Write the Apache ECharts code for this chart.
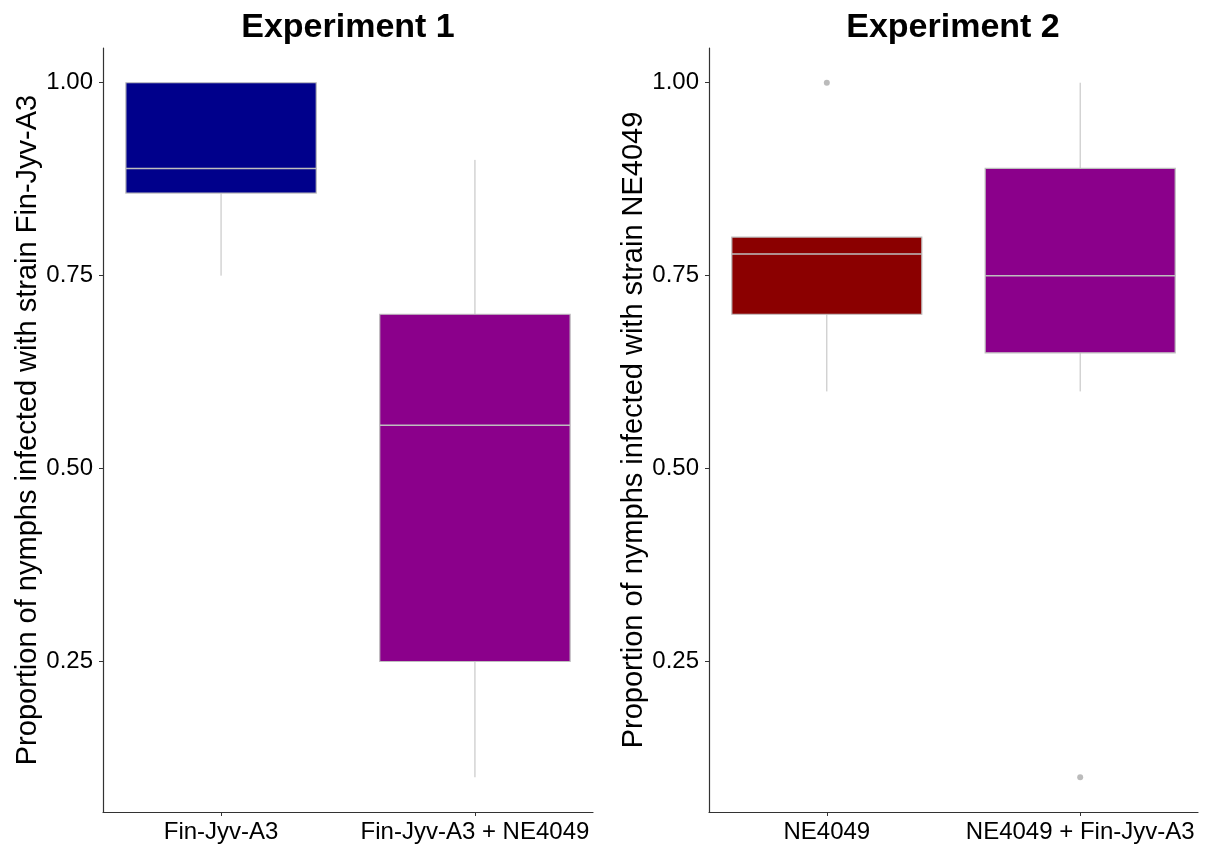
<!DOCTYPE html>
<html>
<head>
<meta charset="utf-8">
<script src="https://cdn.jsdelivr.net/npm/echarts@6/dist/echarts.min.js"></script>
<style>
html,body{margin:0;padding:0;background:#fff;}
#chart{width:1210px;height:847px;}
</style>
</head>
<body>
<div id="chart"></div>
<script>
// ---- data ----
const exp1Categories = ['Fin-Jyv-A3', 'Fin-Jyv-A3 + NE4049'];
const exp1Min    = [0.75, 0.10];
const exp1Q1     = [0.857, 0.25];
const exp1Median = [0.889, 0.556];
const exp1Q3     = [1.00, 0.70];
const exp1Max    = [1.00, 0.90];
const exp1OutlierCats = [];
const exp1OutlierVals = [];

const exp2Categories = ['NE4049', 'NE4049 + Fin-Jyv-A3'];
const exp2Min    = [0.60, 0.60];
const exp2Q1     = [0.70, 0.65];
const exp2Median = [0.778, 0.75];
const exp2Q3     = [0.80, 0.889];
const exp2Max    = [0.80, 1.00];
const exp2OutlierCats = ['NE4049', 'NE4049 + Fin-Jyv-A3'];
const exp2OutlierVals = [1.00, 0.10];

const yTickValues = [0.25, 0.50, 0.75, 1.00];
const titles = ['Experiment 1', 'Experiment 2'];
const yNames = ['Proportion of nymphs infected with strain Fin-Jyv-A3',
                'Proportion of nymphs infected with strain NE4049'];

// ---- styles ----
const exp1Colors = ['#00008B', '#8B008B'];
const exp2Colors = ['#8B0000', '#8B008B'];
const FONT = "'Liberation Sans', Arial, sans-serif";
const GREY = '#bebebe';
const BOX_WIDTH = 0.75;   // in category units (ggplot default)
const X_PAD = 0.465;      // discrete-axis expansion on each side

function boxData(mins, q1s, meds, q3s, maxs) {
  return mins.map((m, i) => [i, m, q1s[i], meds[i], q3s[i], maxs[i]]);
}

function makeRender(colors) {
  return function (params, api) {
    const x = api.value(0);
    const lo = api.coord([x, api.value(1)]);
    const q1 = api.coord([x, api.value(2)]);
    const med = api.coord([x, api.value(3)]);
    const q3 = api.coord([x, api.value(4)]);
    const hi = api.coord([x, api.value(5)]);
    const bw = api.size([1, 0])[0] * BOX_WIDTH;
    const cx = q1[0];
    const lineStyle = {stroke: GREY, lineWidth: 1};
    return {
      type: 'group',
      children: [
        {type: 'line', shape: {x1: cx, y1: hi[1], x2: cx, y2: q3[1]}, style: lineStyle},
        {type: 'line', shape: {x1: cx, y1: q1[1], x2: cx, y2: lo[1]}, style: lineStyle},
        {type: 'rect', shape: {x: cx - bw / 2, y: q3[1], width: bw, height: q1[1] - q3[1]},
         style: {fill: colors[params.dataIndex], stroke: GREY, lineWidth: 1.2}},
        {type: 'line', shape: {x1: cx - bw / 2, y1: med[1], x2: cx + bw / 2, y2: med[1]},
         style: {stroke: GREY, lineWidth: 1.5}}
      ]
    };
  };
}

function xAxisCfg(idx, cats) {
  const pos = cats.map((c, i) => i);
  return {
    type: 'value', gridIndex: idx, min: -X_PAD, max: cats.length - 1 + X_PAD,
    position: 'bottom',
    axisLine: {show: true, onZero: false, lineStyle: {color: '#333', width: 1.2}},
    axisTick: {show: true, length: 4, customValues: pos, lineStyle: {color: '#333'}},
    axisLabel: {color: '#000', fontSize: 24, fontFamily: FONT, margin: 8,
      customValues: pos, formatter: v => cats[Math.round(v)]},
    splitLine: {show: false}
  };
}
function yAxisCfg(idx, name, gap) {
  return {
    type: 'value', gridIndex: idx, min: 0.055, max: 1.045,
    position: 'left',
    name: name, nameLocation: 'middle', nameGap: gap, nameRotate: 90,
    nameTextStyle: {color: '#000', fontSize: 29, fontFamily: FONT},
    axisLine: {show: true, onZero: false, lineStyle: {color: '#333', width: 1.2}},
    axisTick: {show: true, length: 4, customValues: yTickValues, lineStyle: {color: '#333'}},
    axisLabel: {color: '#000', fontSize: 24, fontFamily: FONT, margin: 10,
      customValues: yTickValues, formatter: v => v.toFixed(2)},
    splitLine: {show: false}
  };
}

function outlierData(cats, oCats, oVals) {
  return oCats.map((c, i) => [cats.indexOf(c), oVals[i]]);
}

const chart = echarts.init(document.getElementById('chart'), null, {renderer: 'canvas'});
chart.setOption({
  animation: false,
  backgroundColor: '#fff',
  title: [
    {text: titles[0], left: 343, top: 6, textAlign: 'center',
     textStyle: {fontSize: 34, fontWeight: 'bold', fontFamily: FONT, color: '#000'}},
    {text: titles[1], left: 948, top: 6, textAlign: 'center',
     textStyle: {fontSize: 34, fontWeight: 'bold', fontFamily: FONT, color: '#000'}}
  ],
  grid: [
    {left: 103, top: 48, width: 490, height: 764},
    {left: 709, top: 48, width: 489, height: 764}
  ],
  xAxis: [xAxisCfg(0, exp1Categories), xAxisCfg(1, exp2Categories)],
  yAxis: [yAxisCfg(0, yNames[0], 59), yAxisCfg(1, yNames[1], 60)],
  series: [
    {type: 'custom', xAxisIndex: 0, yAxisIndex: 0, renderItem: makeRender(exp1Colors),
     encode: {x: 0, y: [1, 2, 3, 4, 5]},
     data: boxData(exp1Min, exp1Q1, exp1Median, exp1Q3, exp1Max)},
    {type: 'scatter', xAxisIndex: 0, yAxisIndex: 0, symbolSize: 6,
     itemStyle: {color: '#aaaaaa'},
     data: outlierData(exp1Categories, exp1OutlierCats, exp1OutlierVals)},
    {type: 'custom', xAxisIndex: 1, yAxisIndex: 1, renderItem: makeRender(exp2Colors),
     encode: {x: 0, y: [1, 2, 3, 4, 5]},
     data: boxData(exp2Min, exp2Q1, exp2Median, exp2Q3, exp2Max)},
    {type: 'scatter', xAxisIndex: 1, yAxisIndex: 1, symbolSize: 6,
     itemStyle: {color: '#aaaaaa'},
     data: outlierData(exp2Categories, exp2OutlierCats, exp2OutlierVals)}
  ]
});
</script>
</body>
</html>
